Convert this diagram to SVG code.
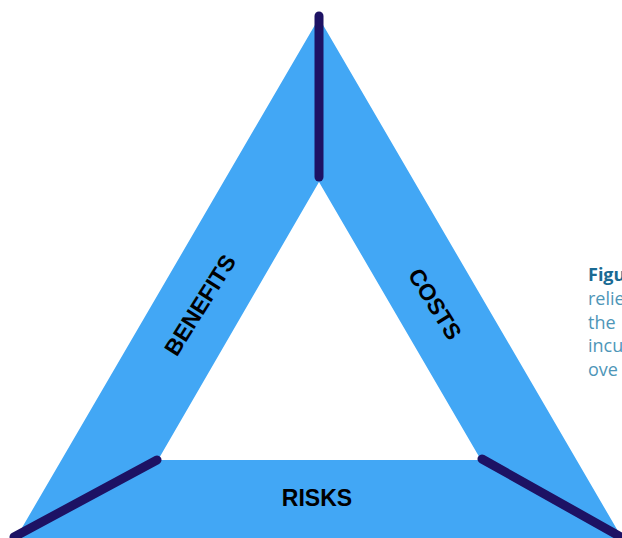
<svg xmlns="http://www.w3.org/2000/svg" width="622" height="538" viewBox="0 0 622 538">
<style>
.band{fill:#42a7f5}
.bar{stroke:#1d1264;stroke-width:9;stroke-linecap:round;fill:none}
.lbl{font-family:"Liberation Sans",Arial,sans-serif;font-weight:bold;font-size:23px;fill:#000;text-anchor:middle}
.cap{font-family:"Open Sans","Noto Sans",sans-serif;font-size:18px;fill:#4e96b8}
.capb{font-weight:bold;fill:#1a6a93}
</style>
<rect width="622" height="538" fill="#fff"/>
<g id="triangle">
<path class="band" fill-rule="evenodd" d="M319,18 L622,538 L16,538 Z M319,182 L158,460 L481,460 Z"/>
</g>
<g id="connectors">
<line class="bar" x1="319" y1="16" x2="319" y2="177"/>
<line class="bar" x1="157" y1="460" x2="14" y2="537"/>
<line class="bar" x1="482" y1="459" x2="621" y2="537"/>
</g>
<g id="benefits"><text class="lbl" transform="translate(200,305) rotate(-58)" dy="8">BENEFITS</text></g>
<g id="costs"><text class="lbl" transform="translate(435,304) rotate(58)" dy="8">COSTS</text></g>
<g id="risks"><text class="lbl" x="317" y="506">RISKS</text></g>
<g id="caption">
<text class="cap capb" x="588" y="281">Figu</text>
<text class="cap" x="588" y="305">relie</text>
<text class="cap" x="588" y="329">the</text>
<text class="cap" x="588" y="352">incu</text>
<text class="cap" x="588" y="376">ove</text>
</g>
</svg>
